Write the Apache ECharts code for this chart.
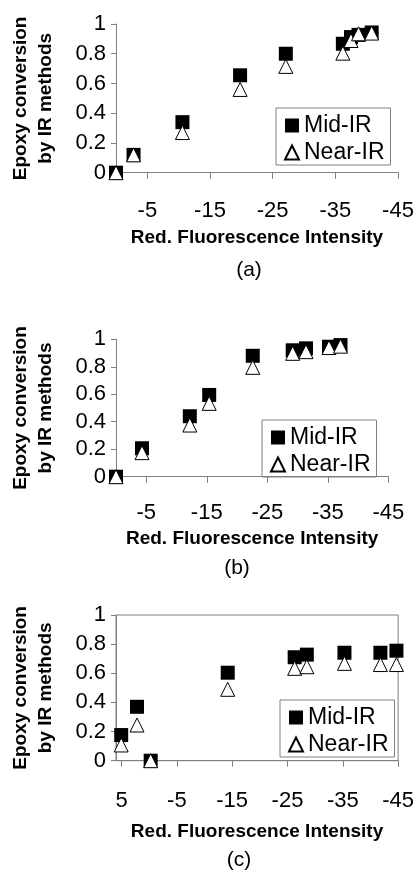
<!DOCTYPE html>
<html>
<head>
<meta charset="utf-8">
<script src="https://cdn.jsdelivr.net/npm/echarts@6/dist/echarts.min.js"></script>
<style>
  html, body { margin: 0; padding: 0; background: #fff; }
  #chart { width: 417px; height: 872px; }
</style>
</head>
<body>
<div id="chart"></div>
<script>
// panel (a)
var aX = [0, -2.8, -10.6, -19.8, -27.1, -36.2, -37.5, -38.7, -40.8];
var aMid = [0, 0.12, 0.34, 0.655, 0.80, 0.867, 0.912, 0.927, 0.943];
var aNear = [0, 0.12, 0.27, 0.56, 0.715, 0.804, 0.889, 0.934, 0.939];
// panel (b)
var bX = [0, -4.3, -12.2, -15.4, -22.6, -29.2, -31.4, -35.2, -37.1];
var bMid = [0, 0.207, 0.44, 0.595, 0.88, 0.92, 0.934, 0.946, 0.958];
var bNear = [0, 0.175, 0.376, 0.534, 0.796, 0.898, 0.91, 0.94, 0.95];
// panel (c)
var cX = [5.06, 2.2, -0.27, -14.2, -26.3, -28.5, -35.3, -41.8, -44.7];
var cMid = [0.176, 0.37, 0, 0.604, 0.71, 0.728, 0.741, 0.741, 0.755];
var cNear = [0.108, 0.245, 0, 0.49, 0.634, 0.645, 0.668, 0.66, 0.66];

var xTicksAB = [-5, -15, -25, -35, -45];
var xTicksC = [5, -5, -15, -25, -35, -45];
var captions = ['(a)', '(b)', '(c)'];

var font = 'Liberation Sans, Arial, sans-serif';
var gray = '#808080';

function pairs(xs, ys) {
  return xs.map(function (x, i) { return [x, ys[i]]; });
}

var chart = echarts.init(document.getElementById('chart'));

function xAxisFor(idx, min, max, ticks, margin, gap) {
  return {
    gridIndex: idx, type: 'value', inverse: true, min: min, max: max,
    axisLine: { show: true, onZero: false, lineStyle: { color: gray, width: 1 } },
    axisTick: { show: true, length: 6, customValues: ticks, lineStyle: { color: gray } },
    axisLabel: { customValues: ticks, margin: margin, color: '#000', fontSize: 22, fontFamily: font },
    splitLine: { show: false },
    name: 'Red. Fluorescence Intensity', nameLocation: 'middle', nameGap: gap,
    nameTextStyle: { color: '#000', fontSize: 19, fontWeight: 'bold', fontFamily: font }
  };
}

function yAxisFor(idx) {
  return {
    gridIndex: idx, type: 'value', min: 0, max: 1, interval: 0.2,
    axisLine: { show: true, onZero: false, lineStyle: { color: gray, width: 1 } },
    axisTick: { show: true, length: 5, lineStyle: { color: gray } },
    axisLabel: { margin: 10, color: '#000', fontSize: 22, fontFamily: font },
    splitLine: { show: false },
    name: 'Epoxy conversion\nby IR methods', nameLocation: 'middle', nameGap: 58, nameRotate: 90,
    nameTextStyle: { color: '#000', fontSize: 19, fontWeight: 'bold', fontFamily: font, lineHeight: 25 }
  };
}

function legendFor(left, top) {
  return {
    orient: 'vertical', left: left, top: top,
    borderColor: gray, borderWidth: 1, padding: [6, 6, 1, 8], itemGap: 4,
    itemWidth: 14, itemHeight: 14,
    textStyle: { color: '#000', fontSize: 23, fontFamily: font },
    data: [
      { name: 'Mid-IR', icon: 'rect' },
      { name: 'Near-IR', icon: 'triangle' }
    ]
  };
}

function seriesFor(idx, xs, mid, near) {
  return [
    { name: 'Mid-IR', type: 'scatter', xAxisIndex: idx, yAxisIndex: idx, symbol: 'rect', symbolSize: 14,
      itemStyle: { color: '#000', opacity: 1 }, data: pairs(xs, mid) },
    { name: 'Near-IR', type: 'scatter', xAxisIndex: idx, yAxisIndex: idx, symbol: 'triangle', symbolSize: 14,
      itemStyle: { color: '#fff', borderColor: '#000', borderWidth: 1, opacity: 1 }, data: pairs(xs, near) }
  ];
}

var option = {
  animation: false,
  title: [
    { text: captions[0], left: 244, top: 255, textAlign: 'center', textStyle: { fontSize: 21, fontWeight: 'normal', color: '#000', fontFamily: font } },
    { text: captions[1], left: 232, top: 553, textAlign: 'center', textStyle: { fontSize: 21, fontWeight: 'normal', color: '#000', fontFamily: font } },
    { text: captions[2], left: 234, top: 845, textAlign: 'center', textStyle: { fontSize: 21, fontWeight: 'normal', color: '#000', fontFamily: font } }
  ],
  legend: [legendFor(276, 108), legendFor(262, 420), legendFor(280, 700)],
  grid: [
    { left: 115, top: 24, width: 283, height: 148.7 },
    { left: 110, top: 339.3, width: 278.3, height: 137.4 },
    { left: 113, top: 615, width: 287, height: 145.7, show: true, borderColor: gray, borderWidth: 1 }
  ],
  xAxis: [
    xAxisFor(0, -45, 0, xTicksAB, 27, 56),
    xAxisFor(1, -45, 0, xTicksAB, 25, 53),
    xAxisFor(2, -45, 6, xTicksC, 29, 62)
  ],
  yAxis: [yAxisFor(0), yAxisFor(1), yAxisFor(2)],
  series: [].concat(seriesFor(0, aX, aMid, aNear), seriesFor(1, bX, bMid, bNear), seriesFor(2, cX, cMid, cNear))
};

chart.setOption(option);
</script>
</body>
</html>
